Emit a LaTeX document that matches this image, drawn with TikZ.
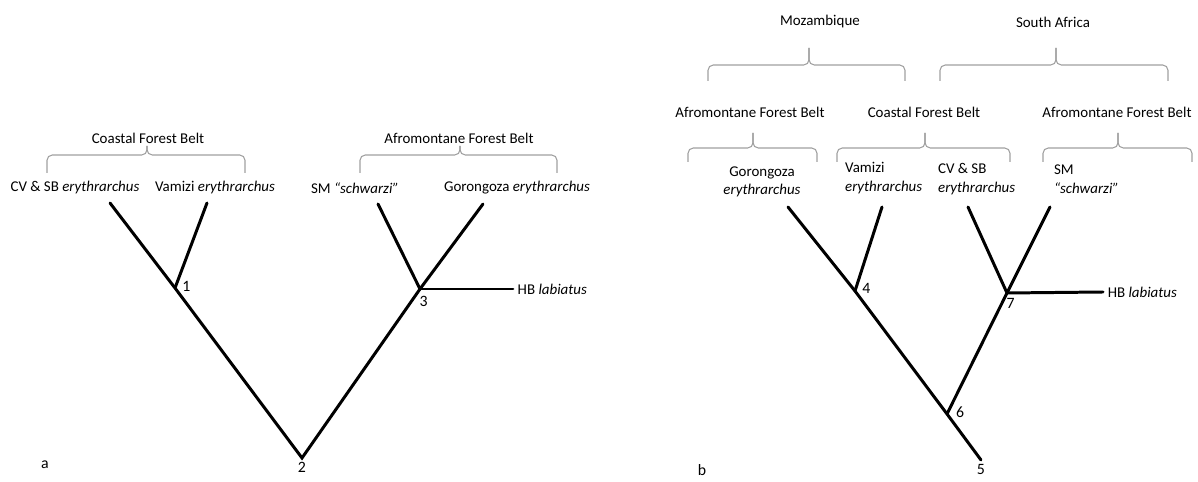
\documentclass[tikz,border=0pt]{standalone}
\usepackage{fontspec}
\setmainfont{Carlito}
\usetikzlibrary{positioning}
\tikzstyle{branch} = [line width=1.7pt, black, line cap=round]
\tikzstyle{bracket} = [draw=gray!75, line width=0.6pt, rounded corners=3pt]
\tikzstyle{group} = [font=\fontsize{8.5}{10.5}\selectfont, inner sep=1pt]
\tikzstyle{taxon} = [font=\fontsize{8.5}{10.5}\selectfont, inner sep=1pt, align=left]
\tikzstyle{num} = [font=\fontsize{9}{10.5}\selectfont, inner sep=1pt]
% curly bracket: left x, tip x, right x, tip y, middle y, end y
\newcommand{\groupbrace}[6]{
    \draw [bracket] (#1,#6) -- (#1,#5) -- (#2,#5) -- (#2,#4);
    \draw [bracket] (#2,#4) -- (#2,#5) -- (#3,#5) -- (#3,#6);
}

\begin{document}
\begin{tikzpicture}[x=0.02cm, y=-0.02cm]
        \useasboundingbox (0,0) rectangle (1198,482);

        % panel a
        \node (coastA) [group] at (148,138) {Coastal Forest Belt};
        \node (afroA) [group] at (459,138) {Afromontane Forest Belt};
        \groupbrace{47}{147}{245}{146}{155}{173}
        \groupbrace{360}{460}{557}{146}{155}{173}

        \node (cvsbA) [taxon] at (75,188) {CV \& SB \textit{erythrarchus}};
        \node (vamA) [taxon] at (215,188) {Vamizi \textit{erythrarchus}};
        \node (smA) [taxon] at (355,188) {SM \textit{“schwarzi”}};
        \node (gorA) [taxon] at (517,188) {Gorongoza \textit{erythrarchus}};
        \node (hbA) [taxon, anchor=west, inner sep=2.5pt] at (513,289) {HB \textit{labiatus}};

        \coordinate (tipCVa) at (110,203);
        \coordinate (tipVa) at (207,203);
        \coordinate (tipSMa) at (378,204);
        \coordinate (tipGa) at (483,204);
        \coordinate (n1) at (175,288);
        \coordinate (n2) at (302,458);
        \coordinate (n3) at (420,289);

        \draw [branch] (tipCVa) -- (n1) -- (n2) -- (n3) -- (tipGa);
        \draw [branch] (tipVa) -- (n1);
        \draw [branch] (tipSMa) -- (n3);
        \draw [branch] (n3) -- (hbA.west);

        \node (l1) [num, right=3pt of n1, yshift=1pt] {1};
        \node (l2) [num, below=1pt of n2] {2};
        \node (l3) [num, below=3pt of n3, xshift=2pt] {3};
        \node (pa) [num] at (45,465) {a};

        % panel b
        \node (mozB) [group] at (820,22) {Mozambique};
        \node (saB) [group] at (1053,22) {South Africa};
        \groupbrace{708}{809}{905}{48}{65}{81}
        \groupbrace{940}{1056}{1168}{48}{65}{81}

        \node (afroB1) [group] at (750,112) {Afromontane Forest Belt};
        \node (coastB) [group] at (924,112) {Coastal Forest Belt};
        \node (afroB2) [group] at (1117,112) {Afromontane Forest Belt};
        \groupbrace{688}{753}{817}{133}{148}{162}
        \groupbrace{837}{925}{1010}{133}{148}{162}
        \groupbrace{1043}{1118}{1192}{133}{148}{162}

        \node (gorB) [taxon, align=center] at (762,182) {Gorongoza\\\textit{erythrarchus}};
        \node (vamB) [taxon, anchor=west] at (843,178) {Vamizi\\\textit{erythrarchus}};
        \node (cvsbB) [taxon, anchor=west] at (936,179) {CV \& SB\\\textit{erythrarchus}};
        \node (smB) [taxon, anchor=west] at (1052,179) {SM\\\textit{“schwarzi”}};
        \node (hbB) [taxon, anchor=west, inner sep=2.5pt] at (1103,292) {HB \textit{labiatus}};

        \coordinate (tipGb) at (788,207);
        \coordinate (tipVb) at (882,207);
        \coordinate (tipCVb) at (968,207);
        \coordinate (tipSMb) at (1050,207);
        \coordinate (n4) at (855,291);
        \coordinate (n5) at (981,460);
        \coordinate (n6) at (947,414);
        \coordinate (n7) at (1007,293);

        \draw [branch] (tipGb) -- (n4) -- (n6) -- (n5);
        \draw [branch] (tipVb) -- (n4);
        \draw [branch] (n6) -- (n7) -- (tipSMb);
        \draw [branch] (tipCVb) -- (n7);
        \draw [branch] (n7) -- (hbB.west);

        \node (l4) [num, right=3pt of n4, yshift=1.5pt] {4};
        \node (l5) [num, below=1pt of n5] {5};
        \node (l6) [num, right=4pt of n6, yshift=1pt] {6};
        \node (l7) [num, below=2pt of n7, xshift=2pt] {7};
        \node (pb) [num] at (702,470) {b};
    \end{tikzpicture}
\end{document}
